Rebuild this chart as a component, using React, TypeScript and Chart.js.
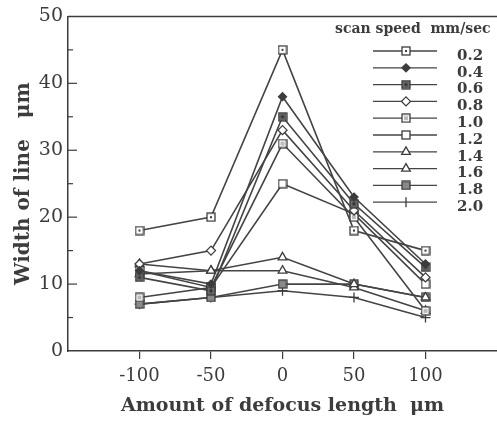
import React, { useEffect, useRef } from "react";
import { Chart, registerables, PointElement } from "chart.js";

Chart.register(...registerables);

// ---- data ----
const defocus = [-100, -50, 0, 50, 100];
const speedLabels = ["0.2", "0.4", "0.6", "0.8", "1.0", "1.2", "1.4", "1.6", "1.8", "2.0"];
const w02 = [18, 20, 45, 18, 15];
const w04 = [12, 10, 38, 23, 13];
const w06 = [11, 9, 35, 22, 12.5];
const w08 = [13, 15, 33, 21, 11];
const w10 = [8, 9.5, 31, 20, 6];
const w12 = [12, 9.5, 25, 20.5, 10];
const w14 = [13, 12, 14, 10, 8];
const w16 = [11.5, 12, 12, 9.5, 6];
const w18 = [7, 8, 10, 10, 8];
const w20 = [7, 8, 9, 8, 5];
const widthSeries = [w02, w04, w06, w08, w10, w12, w14, w16, w18, w20];
const xTicks = [-100, -50, 0, 50, 100];
const yMajorTicks = [0, 10, 20, 30, 40, 50];
const yMinorTicks = [5, 15, 25, 35, 45];

const INK = "#3c3c3c";
const SERIF = "'DejaVu Serif', 'Liberation Serif', serif";

function makeSquare(kind: string): HTMLCanvasElement {
  const c = document.createElement("canvas");
  c.width = 10;
  c.height = 10;
  const g = c.getContext("2d")!;
  g.fillStyle = kind === "filled" ? "#6a6a6a" : kind === "grey" ? "#8a8a8a" : "#ffffff";
  g.fillRect(1, 1, 8, 8);
  g.strokeStyle = INK;
  g.lineWidth = 1.3;
  g.strokeRect(1, 1, 8, 8);
  if (kind === "dot") {
    g.fillStyle = INK;
    g.fillRect(4, 4, 2, 2);
  }
  if (kind === "filled") {
    g.fillStyle = "#333";
    g.fillRect(3.5, 3.5, 3, 3);
  }
  if (kind === "light") {
    g.fillStyle = "#bbb";
    g.fillRect(3, 3, 4, 4);
  }
  return c;
}

export default function App() {
  const ref = useRef<HTMLCanvasElement | null>(null);

  useEffect(() => {
    document.body.style.margin = "0";
    const canvas = ref.current!;
    const markers: any[] = [
      { style: makeSquare("dot"), bg: "#fff", r: 5 },
      { style: "rectRot", bg: INK, r: 4 },
      { style: makeSquare("filled"), bg: "#fff", r: 5 },
      { style: "rectRot", bg: "#fff", r: 4.5 },
      { style: makeSquare("light"), bg: "#fff", r: 5 },
      { style: makeSquare("open"), bg: "#fff", r: 5 },
      { style: "triangle", bg: "#fff", r: 5 },
      { style: "triangle", bg: "#fff", r: 5 },
      { style: makeSquare("grey"), bg: "#fff", r: 5 },
      { style: "cross", bg: "#fff", r: 5 },
    ];

    const datasets = speedLabels.map((lab, i) => ({
      label: lab,
      data: defocus.map((x, j) => ({ x, y: widthSeries[i][j] })),
      borderColor: "#444",
      borderWidth: 1.6,
      pointStyle: markers[i].style,
      pointRadius: markers[i].r,
      pointBackgroundColor: markers[i].bg,
      pointBorderColor: INK,
      pointBorderWidth: 1.3,
      fill: false,
      tension: 0,
    }));

    const framePlugin = {
      id: "frame",
      afterDraw(chart: any) {
        const { ctx, chartArea } = chart;
        const y = chart.scales.y;
        ctx.save();
        ctx.strokeStyle = INK;
        ctx.lineWidth = 1.5;
        ctx.beginPath();
        ctx.moveTo(chartArea.left, chartArea.top);
        ctx.lineTo(chartArea.right, chartArea.top);
        ctx.stroke();
        ctx.lineWidth = 1.2;
        yMajorTicks.forEach((v) => {
          if (v === 0 || v === 50) return;
          const py = y.getPixelForValue(v);
          ctx.beginPath();
          ctx.moveTo(chartArea.left, py);
          ctx.lineTo(chartArea.left + 9, py);
          ctx.stroke();
        });
        yMinorTicks.forEach((v) => {
          const py = y.getPixelForValue(v);
          ctx.beginPath();
          ctx.moveTo(chartArea.left, py);
          ctx.lineTo(chartArea.left + 5, py);
          ctx.stroke();
        });
        ctx.restore();
      },
    };

    const legendPlugin = {
      id: "customLegend",
      afterDraw(chart: any) {
        const { ctx } = chart;
        ctx.save();
        ctx.fillStyle = INK;
        ctx.font = `bold 14px ${SERIF}`;
        ctx.textBaseline = "middle";
        ctx.textAlign = "left";
        ctx.fillText("scan speed  mm/sec", 335, 29);
        const area = { left: 0, right: 10000, top: 0, bottom: 10000 };
        chart.data.datasets.forEach((ds: any, i: number) => {
          const yy = 51 + i * 16.8;
          ctx.strokeStyle = "#444";
          ctx.lineWidth = 1.3;
          ctx.beginPath();
          ctx.moveTo(373, yy);
          ctx.lineTo(437, yy);
          ctx.stroke();
          const pt: any = new PointElement({ x: 406, y: yy } as any);
          pt.options = {
            pointStyle: ds.pointStyle === "cross" ? "line" : ds.pointStyle,
            rotation: ds.pointStyle === "cross" ? 90 : 0,
            radius: ds.pointRadius,
            borderWidth: 1.3,
            borderColor: INK,
            backgroundColor: ds.pointBackgroundColor,
            hitRadius: 1,
          };
          pt.draw(ctx, area);
          ctx.fillStyle = INK;
          ctx.font = `bold 15px ${SERIF}`;
          ctx.fillText(ds.label, 457, yy + 5);
        });
        ctx.restore();
      },
    };

    const chart = new Chart(canvas, {
      type: "line",
      data: { datasets } as any,
      plugins: [framePlugin, legendPlugin],
      options: {
        responsive: false,
        animation: false,
        layout: { autoPadding: false, padding: { top: 15, right: 0, left: 0, bottom: 0 } },
        plugins: { legend: { display: false }, tooltip: { enabled: false } },
        scales: {
          x: {
            type: "linear",
            min: -150,
            max: 150,
            afterBuildTicks: (s: any) => {
              s.ticks = xTicks.map((v) => ({ value: v }));
            },
            afterFit: (s: any) => {
              s.height = 74;
              s.paddingRight = 0;
              s.paddingLeft = 0;
            },
            grid: { drawOnChartArea: false, drawTicks: true, tickLength: 8, color: INK, lineWidth: 1.2 },
            border: { display: true, color: INK, width: 1.5 },
            ticks: { font: { family: SERIF, size: 18 }, color: INK, padding: 7, maxRotation: 0, autoSkip: false },
            title: {
              display: true,
              text: "Amount of defocus length  μm",
              font: { family: SERIF, size: 19, weight: "bold" },
              color: INK,
              padding: { top: 0, bottom: 8 },
            },
          },
          y: {
            min: 0,
            max: 50,
            afterBuildTicks: (s: any) => {
              s.ticks = yMajorTicks.map((v) => ({ value: v }));
            },
            afterFit: (s: any) => {
              s.width = 68;
            },
            grid: { drawOnChartArea: false, drawTicks: false },
            border: { display: true, color: INK, width: 1.5 },
            ticks: { font: { family: SERIF, size: 19 }, color: INK, padding: 5 },
            title: {
              display: true,
              text: "Width of line   μm",
              font: { family: SERIF, size: 20, weight: "bold" },
              color: INK,
              padding: { top: 12, bottom: 0 },
            },
          },
        },
      } as any,
    });
    return () => chart.destroy();
  }, []);

  return <canvas ref={ref} width={497} height={425} style={{ display: "block" }} />;
}
